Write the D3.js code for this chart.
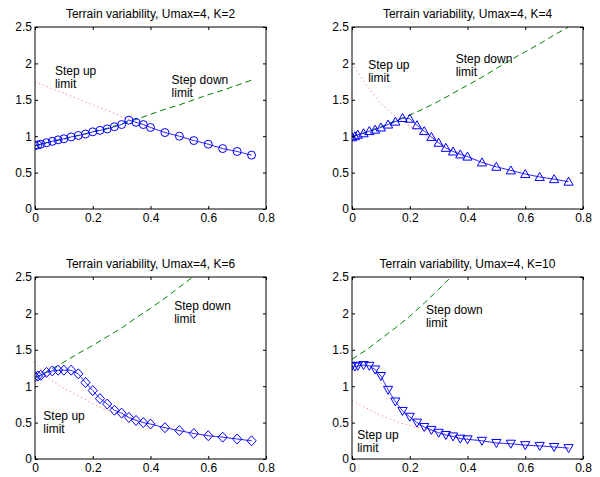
<!DOCTYPE html>
<html>
<head>
<meta charset="utf-8">
<script src="https://cdn.jsdelivr.net/npm/d3@7"></script>
<style>
  body { margin: 0; background: #fff; }
  svg text { font-family: "Liberation Sans", Arial, sans-serif; }
</style>
</head>
<body>
<script>
const [width, height] = [600, 477];

// x positions of the plotted path samples
const xPath = [0, 0.01, 0.02, 0.04, 0.06, 0.08, 0.1, 0.125, 0.15, 0.175, 0.2, 0.225, 0.25, 0.275,
    0.3, 0.325, 0.35, 0.375, 0.4, 0.45, 0.5, 0.55, 0.6, 0.65, 0.7, 0.75];
// x positions of the limit curves
const xLimit = [0, 0.05, 0.1, 0.15, 0.2, 0.25, 0.3, 0.35, 0.4, 0.45, 0.5, 0.55, 0.6, 0.65, 0.7, 0.75];

const xTicks = [0, 0.2, 0.4, 0.6, 0.8];
const yTicks = [0, 0.5, 1, 1.5, 2, 2.5];

// K=2
const k2Path = [0.87, 0.88, 0.89, 0.91, 0.93, 0.95, 0.965, 0.99, 1.01, 1.03, 1.06, 1.08, 1.10, 1.13,
    1.16, 1.22, 1.19, 1.16, 1.12, 1.05, 1.00, 0.94, 0.89, 0.83, 0.79, 0.74];
const k2Up = [1.75, 1.67, 1.59, 1.51, 1.43, 1.35, 1.27, 1.19, 1.12, 1.05, 1.00, 0.94, 0.89, 0.83, 0.79, 0.74];
const k2Down = [0.87, 0.92, 0.96, 1.01, 1.06, 1.11, 1.17, 1.23, 1.30, 1.37, 1.43, 1.50, 1.57, 1.63, 1.70, 1.77];

// K=4
const k4Path = [0.985, 1.0, 1.02, 1.04, 1.07, 1.09, 1.12, 1.16, 1.20, 1.25, 1.24, 1.15, 1.07, 0.99,
    0.91, 0.84, 0.79, 0.75, 0.72, 0.64, 0.58, 0.53, 0.48, 0.44, 0.41, 0.375];
const k4Up = [2.0, 1.70, 1.45, 1.27, 1.14, 1.02, 0.91, 0.81, 0.72, 0.64, 0.58, 0.53, 0.48, 0.44, 0.41, 0.375];
const k4Down = [0.99, 1.06, 1.13, 1.21, 1.29, 1.38, 1.48, 1.59, 1.70, 1.81, 1.93, 2.05, 2.16, 2.27, 2.39, 2.50];

// K=6
const k6Path = [1.13, 1.14, 1.15, 1.19, 1.21, 1.22, 1.22, 1.22, 1.17, 1.05, 0.94, 0.83, 0.755, 0.67,
    0.63, 0.57, 0.53, 0.50, 0.48, 0.43, 0.39, 0.35, 0.32, 0.30, 0.275, 0.25];
const k6Up = [1.33, 1.10, 0.97, 0.87, 0.76, 0.67, 0.60, 0.54, 0.48, 0.43, 0.39, 0.35, 0.32, 0.30, 0.275, 0.25];
const k6Down = [1.11, 1.22, 1.33, 1.45, 1.56, 1.68, 1.80, 1.94, 2.07, 2.21, 2.36, 2.51];

// K=10
const k10Path = [1.28, 1.27, 1.28, 1.29, 1.28, 1.23, 1.14, 0.95, 0.79, 0.66, 0.58, 0.50, 0.44, 0.40,
    0.36, 0.33, 0.31, 0.28, 0.27, 0.25, 0.22, 0.21, 0.19, 0.18, 0.165, 0.15];
const k10Up = [0.80, 0.70, 0.60, 0.52, 0.46, 0.41, 0.37, 0.32, 0.28, 0.25, 0.22, 0.21, 0.19, 0.18, 0.165, 0.15];
const k10Down = [1.37, 1.50, 1.65, 1.80, 1.96, 2.14, 2.33, 2.53];

const markerPaths = {
    circle: d3.symbol(d3.symbolCircle, 50)(),
    up: 'M0,-4.5L4.6,3.5L-4.6,3.5Z',
    down: 'M0,4.5L4.6,-3.5L-4.6,-3.5Z',
    diamond: 'M0,-5L4.6,0L0,5L-4.6,0Z',
};

const panels = [
    {title: 'Terrain variability, Umax=4, K=2', left: 35, top: 27, path: k2Path, up: k2Up, down: k2Down,
        marker: 'circle', upLabel: [0.069, 1.84], downLabel: [0.473, 1.72]},
    {title: 'Terrain variability, Umax=4, K=4', left: 352, top: 27, path: k4Path, up: k4Up, down: k4Down,
        marker: 'up', upLabel: [0.056, 1.92], downLabel: [0.359, 2.01]},
    {title: 'Terrain variability, Umax=4, K=6', left: 35, top: 277, path: k6Path, up: k6Up, down: k6Down,
        marker: 'diamond', upLabel: [0.029, 0.54], downLabel: [0.482, 2.04]},
    {title: 'Terrain variability, Umax=4, K=10', left: 352, top: 277, path: k10Path, up: k10Up, down: k10Down,
        marker: 'down', upLabel: [0.018, 0.27], downLabel: [0.256, 1.99]},
];

const [pw, ph] = [231, 182];

const svg = d3.select('body').append('svg')
    .attr('width', width)
    .attr('height', height)
    .attr('viewBox', [0, 0, width, height]);

svg.append('rect').attr('width', width).attr('height', height).attr('fill', '#fff');

panels.forEach((p, i) => {
    const x = d3.scaleLinear().domain([0, 0.8]).range([0, pw]);
    const y = d3.scaleLinear().domain([0, 2.5]).range([ph, 0]);

    const g = svg.append('g').attr('transform', `translate(${p.left},${p.top})`);

    g.append('clipPath').attr('id', `clip${i}`)
        .append('rect').attr('width', pw).attr('height', ph);

    const line = d3.line().x(d => x(d[0])).y(d => y(d[1]));
    const plot = g.append('g').attr('clip-path', `url(#clip${i})`);

    plot.append('path')
        .datum(p.up.map((v, j) => [xLimit[j], v]))
        .attr('d', line)
        .attr('fill', 'none')
        .attr('stroke', '#ff3030')
        .attr('stroke-opacity', 0.75)
        .attr('stroke-width', 1)
        .attr('stroke-dasharray', '1 3.2');

    plot.append('path')
        .datum(p.down.map((v, j) => [xLimit[j], v]))
        .attr('d', line)
        .attr('fill', 'none')
        .attr('stroke', '#008000')
        .attr('stroke-width', 1)
        .attr('stroke-dasharray', '6 4');

    const pts = p.path.map((v, j) => [xPath[j], v]);

    plot.append('path')
        .datum(pts)
        .attr('d', line)
        .attr('fill', 'none')
        .attr('stroke', '#0000ff')
        .attr('stroke-width', 0.8);

    plot.append('g')
        .selectAll('path')
        .data(pts)
        .join('path')
            .attr('transform', d => `translate(${x(d[0])},${y(d[1])})`)
            .attr('d', markerPaths[p.marker])
            .attr('fill', 'none')
            .attr('stroke', '#0000ff')
            .attr('stroke-width', 1);

    // axes, ticks pointing inwards on all four sides
    const fmt = d => String(d);
    g.append('g')
        .attr('transform', `translate(0,${ph})`)
        .call(d3.axisBottom(x).tickValues(xTicks).tickFormat(fmt).tickSize(-3).tickSizeOuter(0).tickPadding(4));
    g.append('g')
        .call(d3.axisLeft(y).tickValues(yTicks).tickFormat(fmt).tickSize(-3).tickSizeOuter(0).tickPadding(3));
    g.append('g')
        .call(d3.axisTop(x).tickValues(xTicks).tickFormat('').tickSize(-3).tickSizeOuter(0));
    g.append('g')
        .attr('transform', `translate(${pw},0)`)
        .call(d3.axisRight(y).tickValues(yTicks).tickFormat('').tickSize(-3).tickSizeOuter(0));

    g.selectAll('.tick text').attr('font-size', 12).attr('font-family', null).attr('fill', '#000');
    g.selectAll('.domain').remove();
    g.selectAll('.tick line').attr('stroke', '#000');

    g.append('rect')
        .attr('width', pw).attr('height', ph)
        .attr('fill', 'none').attr('stroke', '#000').attr('stroke-width', 1);

    g.append('text')
        .attr('x', pw / 2).attr('y', -9)
        .attr('text-anchor', 'middle')
        .attr('font-size', 12)
        .text(p.title);

    const label = (pos, first) => {
        const t = g.append('text')
            .attr('x', x(pos[0])).attr('y', y(pos[1]))
            .attr('font-size', 12).attr('fill', '#000');
        t.append('tspan').text(first);
        t.append('tspan').attr('x', x(pos[0])).attr('dy', 13).text('limit');
    };
    label(p.upLabel, 'Step up');
    label(p.downLabel, 'Step down');
});
</script>
</body>
</html>
